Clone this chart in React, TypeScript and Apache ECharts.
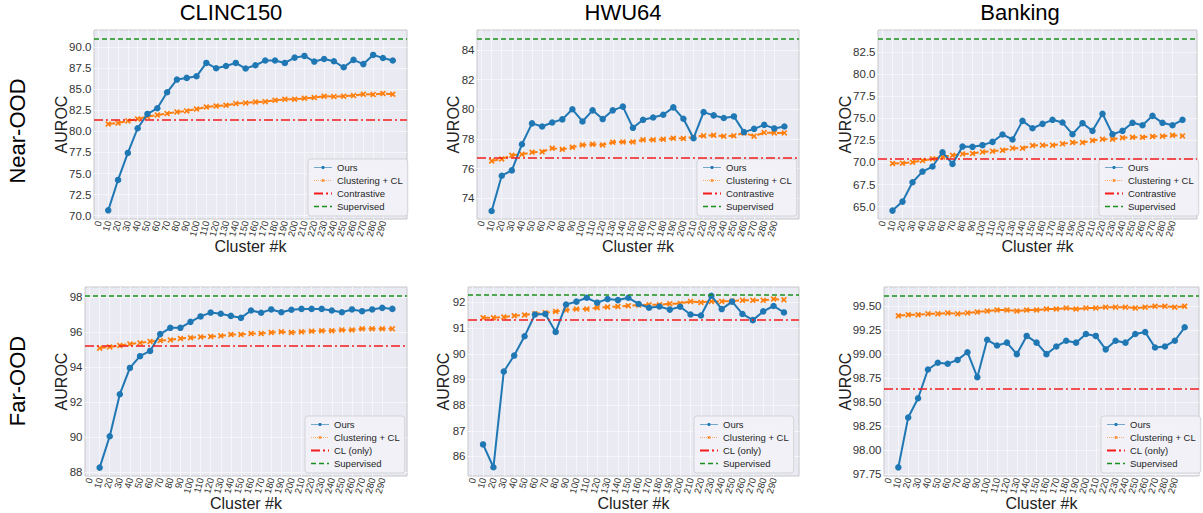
import React, { useEffect, useRef } from "react";
import * as echarts from "echarts";

// ---------------- DATA ----------------
const kValues = [10, 20, 30, 40, 50, 60, 70, 80, 90, 100, 110, 120, 130, 140, 150, 160, 170, 180, 190, 200, 210, 220, 230, 240, 250, 260, 270, 280, 290, 300];
const xTicks = [0, 10, 20, 30, 40, 50, 60, 70, 80, 90, 100, 110, 120, 130, 140, 150, 160, 170, 180, 190, 200, 210, 220, 230, 240, 250, 260, 270, 280, 290];

const columnTitles = ["CLINC150", "HWU64", "Banking"];
const rowTitles = ["Near-OOD", "Far-OOD"];
const seriesNames = ["Ours", "Clustering + CL", "Contrastive", "CL (only)", "Supervised"];
const xAxisTitle = "Cluster #k";
const yAxisTitle = "AUROC";

// Near-OOD
const clincNearOurs = [70.63, 74.24, 77.45, 80.38, 82.08, 82.75, 84.65, 86.16, 86.36, 86.55, 88.14, 87.5, 87.78, 88.14, 87.47, 87.86, 88.42, 88.42, 88.14, 88.77, 88.97, 88.3, 88.61, 88.34, 87.62, 88.5, 88.0, 89.09, 88.73, 88.42];
const clincNearClusterCL = [80.89, 81.0, 81.25, 81.49, 81.76, 81.96, 82.12, 82.32, 82.44, 82.67, 82.91, 83.03, 83.11, 83.31, 83.39, 83.5, 83.54, 83.7, 83.82, 83.82, 83.94, 84.02, 84.18, 84.14, 84.18, 84.26, 84.42, 84.38, 84.5, 84.42];
const clincNearBaseline = 81.33;
const clincNearSupervised = 91.03;

const hwuNearOurs = [73.14, 75.52, 75.88, 77.64, 79.05, 78.84, 79.11, 79.32, 80.0, 79.18, 79.93, 79.34, 79.93, 80.18, 78.75, 79.29, 79.45, 79.63, 80.13, 79.36, 78.05, 79.81, 79.59, 79.41, 79.52, 78.46, 78.68, 78.95, 78.71, 78.84];
const hwuNearClusterCL = [76.51, 76.65, 76.9, 76.96, 77.1, 77.14, 77.37, 77.3, 77.44, 77.6, 77.64, 77.6, 77.78, 77.8, 77.8, 77.94, 77.94, 77.98, 78.05, 78.03, 78.14, 78.21, 78.25, 78.19, 78.21, 78.41, 78.19, 78.43, 78.41, 78.41];
const hwuNearBaseline = 76.74;
const hwuNearSupervised = 84.79;

const bankNearOurs = [64.55, 65.57, 67.76, 68.97, 69.54, 71.16, 69.84, 71.8, 71.77, 71.96, 72.33, 73.17, 72.6, 74.71, 73.88, 74.37, 74.83, 74.52, 73.2, 74.45, 73.58, 75.51, 73.2, 73.58, 74.49, 74.22, 75.28, 74.49, 74.22, 74.83];
const bankNearClusterCL = [69.88, 69.92, 70.03, 70.22, 70.41, 70.63, 70.82, 70.97, 71.01, 71.2, 71.28, 71.39, 71.62, 71.62, 71.92, 71.96, 71.96, 72.11, 72.26, 72.26, 72.48, 72.64, 72.64, 72.79, 72.86, 72.86, 72.94, 72.98, 73.09, 73.01];
const bankNearBaseline = 70.37;
const bankNearSupervised = 84.01;

// Far-OOD
const clincFarOurs = [88.25, 90.04, 92.44, 93.94, 94.61, 94.91, 95.87, 96.23, 96.23, 96.57, 96.88, 97.1, 97.03, 96.91, 96.8, 97.22, 97.09, 97.28, 97.12, 97.26, 97.31, 97.31, 97.31, 97.22, 97.12, 97.28, 97.18, 97.28, 97.37, 97.31];
const clincFarClusterCL = [95.07, 95.14, 95.22, 95.3, 95.37, 95.45, 95.5, 95.54, 95.62, 95.66, 95.71, 95.73, 95.77, 95.85, 95.85, 95.9, 95.9, 95.96, 96.0, 95.96, 96.0, 96.04, 96.06, 96.06, 96.11, 96.11, 96.17, 96.17, 96.17, 96.17];
const clincFarBaseline = 95.2;
const clincFarSupervised = 98.08;

const hwuFarOurs = [86.47, 85.58, 89.31, 89.93, 90.68, 91.53, 91.55, 90.85, 91.92, 92.03, 92.18, 91.99, 92.13, 92.09, 92.18, 91.94, 91.79, 91.84, 91.72, 91.83, 91.53, 91.49, 92.26, 91.74, 92.03, 91.55, 91.31, 91.65, 91.86, 91.61];
const hwuFarClusterCL = [91.4, 91.4, 91.43, 91.48, 91.51, 91.56, 91.6, 91.65, 91.7, 91.74, 91.74, 91.79, 91.82, 91.84, 91.87, 91.9, 91.91, 91.91, 91.95, 91.96, 92.04, 92.0, 92.04, 92.04, 92.05, 92.08, 92.08, 92.08, 92.13, 92.1];
const hwuFarBaseline = 91.34;
const hwuFarSupervised = 92.28;

const bankFarOurs = [97.82, 98.34, 98.54, 98.84, 98.91, 98.9, 98.94, 99.02, 98.76, 99.15, 99.09, 99.12, 99.0, 99.19, 99.12, 99.0, 99.08, 99.14, 99.12, 99.21, 99.19, 99.05, 99.14, 99.12, 99.21, 99.23, 99.07, 99.08, 99.14, 99.28];
const bankFarClusterCL = [99.4, 99.41, 99.41, 99.42, 99.42, 99.43, 99.42, 99.43, 99.44, 99.45, 99.46, 99.46, 99.45, 99.46, 99.46, 99.47, 99.47, 99.48, 99.47, 99.48, 99.48, 99.49, 99.49, 99.49, 99.48, 99.49, 99.5, 99.5, 99.49, 99.5];
const bankFarBaseline = 98.64;
const bankFarSupervised = 99.61;

// y tick labels
const yTicksClincNear = [70, 72.5, 75, 77.5, 80, 82.5, 85, 87.5, 90];
const yTicksHwuNear = [74, 76, 78, 80, 82, 84];
const yTicksBankNear = [65, 67.5, 70, 72.5, 75, 77.5, 80, 82.5];
const yTicksClincFar = [88, 90, 92, 94, 96, 98];
const yTicksHwuFar = [86, 87, 88, 89, 90, 91, 92];
const yTicksBankFar = [97.75, 98, 98.25, 98.5, 98.75, 99, 99.25, 99.5];

// ---------------- STYLE / LAYOUT ----------------
const FONT = "'Liberation Sans', Arial, Helvetica, sans-serif";
const BLUE = "#1f77b4";
const ORANGE = "#ff7f0e";
const RED = "#f41c1c";
const GREEN = "#1a911a";
const X_SYMBOL = "path://M0,2 L2,0 L5,3 L8,0 L10,2 L7,5 L10,8 L8,10 L5,7 L2,10 L0,8 L3,5 Z";
const DASHDOT = [9, 3, 2, 3];
const DASHED = [5, 3];
const X_MIN = -4.5;
const X_MAX = 314.5;

const panels = [
  { grid: { left: 94, top: 30, width: 313, height: 189 }, yMin: 69.6, yMax: 92.05, ticks: yTicksClincNear, dec: 1, ours: clincNearOurs, ccl: clincNearClusterCL, baseName: seriesNames[2], base: clincNearBaseline, sup: clincNearSupervised, yNameX: 61, legend: { left: 308, top: 159 } },
  { grid: { left: 477, top: 30, width: 322, height: 189 }, yMin: 72.6, yMax: 85.35, ticks: yTicksHwuNear, dec: 0, ours: hwuNearOurs, ccl: hwuNearClusterCL, baseName: seriesNames[2], base: hwuNearBaseline, sup: hwuNearSupervised, yNameX: 453, legend: { left: 697, top: 159 } },
  { grid: { left: 878, top: 30, width: 319, height: 189 }, yMin: 63.6, yMax: 85.0, ticks: yTicksBankNear, dec: 1, ours: bankNearOurs, ccl: bankNearClusterCL, baseName: seriesNames[2], base: bankNearBaseline, sup: bankNearSupervised, yNameX: 845, legend: { left: 1099, top: 159 } },
  { grid: { left: 85, top: 287, width: 322, height: 189 }, yMin: 87.77, yMax: 98.56, ticks: yTicksClincFar, dec: 0, ours: clincFarOurs, ccl: clincFarClusterCL, baseName: seriesNames[3], base: clincFarBaseline, sup: clincFarSupervised, yNameX: 61, legend: { left: 305, top: 416 } },
  { grid: { left: 468, top: 287, width: 331, height: 189 }, yMin: 85.24, yMax: 92.6, ticks: yTicksHwuFar, dec: 0, ours: hwuFarOurs, ccl: hwuFarClusterCL, baseName: seriesNames[3], base: hwuFarBaseline, sup: hwuFarSupervised, yNameX: 443, legend: { left: 694, top: 416 } },
  { grid: { left: 884, top: 287, width: 315, height: 189 }, yMin: 97.73, yMax: 99.7, ticks: yTicksBankFar, dec: 2, ours: bankFarOurs, ccl: bankFarClusterCL, baseName: seriesNames[3], base: bankFarBaseline, sup: bankFarSupervised, yNameX: 845, legend: { left: 1101, top: 416 } },
];
const xNameOffset = 27; // distance below plot bottom to centre of "Cluster #k"

const titlePos = [
  { x: 231, y: 12 },
  { x: 623, y: 12 },
  { x: 1020, y: 12 },
];
const rowPos = [
  { x: 17, y: 131 },
  { x: 17, y: 381 },
];

// label positions incl. blank sentinels at the axis ends (so that the real 0 / 290 labels are never auto-hidden)
const xLabelValues = [X_MIN, ...xTicks, X_MAX];

function buildOption() {
  const grid: any[] = [];
  const xAxis: any[] = [];
  const yAxis: any[] = [];
  const series: any[] = [];
  const legend: any[] = [];
  const graphic: any[] = [];

  panels.forEach((p, i) => {
    grid.push({
      ...p.grid,
      show: true,
      backgroundColor: "#eaeaf2",
      borderColor: "#c6c6cc",
      borderWidth: 1,
      containLabel: false,
    });
    xAxis.push({
      type: "value",
      gridIndex: i,
      min: X_MIN,
      max: X_MAX,
      axisLine: { show: false },
      axisTick: { show: false, customValues: xTicks },
      axisLabel: {
        customValues: xLabelValues,
        showMinLabel: false,
        showMaxLabel: false,
        hideOverlap: false,
        rotate: 75,
        fontSize: 9.5,
        lineHeight: 8,
        color: "#333",
        margin: 2,
        fontFamily: FONT,
        formatter: (v: number) => (v < 0 || v > 290 ? "" : String(v)),
      },
      splitLine: { show: true, lineStyle: { color: "#f6f6fa", width: 1 } },
    });
    yAxis.push({
      type: "value",
      gridIndex: i,
      min: p.yMin,
      max: p.yMax,
      axisLine: { show: false },
      axisTick: { show: false, customValues: p.ticks },
      axisLabel: {
        customValues: p.ticks,
        showMinLabel: true,
        showMaxLabel: true,
        fontSize: 11.5,
        color: "#333",
        margin: 2.5,
        fontFamily: FONT,
        formatter: (v: number) => v.toFixed(p.dec),
      },
      splitLine: { show: true, lineStyle: { color: "#f6f6fa", width: 1 } },
    });

    series.push({
      type: "line",
      name: seriesNames[0],
      xAxisIndex: i,
      yAxisIndex: i,
      data: kValues.map((k, j) => [k, p.ours[j]]),
      symbol: "circle",
      symbolSize: 6.5,
      showSymbol: true,
      lineStyle: { color: BLUE, width: 2 },
      itemStyle: { color: BLUE },
      emphasis: { disabled: true },
      z: 4,
    });
    series.push({
      type: "line",
      name: seriesNames[1],
      xAxisIndex: i,
      yAxisIndex: i,
      data: kValues.map((k, j) => [k, p.ccl[j]]),
      symbol: X_SYMBOL,
      symbolSize: 6,
      showSymbol: true,
      lineStyle: { color: ORANGE, width: 2, type: [7, 3] },
      itemStyle: { color: ORANGE },
      emphasis: { disabled: true },
      z: 3,
    });
    series.push({
      type: "line",
      name: p.baseName,
      xAxisIndex: i,
      yAxisIndex: i,
      data: [],
      symbol: "none",
      lineStyle: { color: RED, width: 1.6, type: DASHDOT },
      itemStyle: { color: RED },
      markLine: {
        silent: true,
        symbol: ["none", "none"],
        label: { show: false },
        emphasis: { disabled: true },
        lineStyle: { color: RED, width: 1.6, type: DASHDOT },
        data: [{ yAxis: p.base }],
      },
      z: 2,
    });
    series.push({
      type: "line",
      name: seriesNames[4],
      xAxisIndex: i,
      yAxisIndex: i,
      data: [],
      symbol: "none",
      lineStyle: { color: GREEN, width: 1.6, type: DASHED },
      itemStyle: { color: GREEN },
      markLine: {
        silent: true,
        symbol: ["none", "none"],
        label: { show: false },
        emphasis: { disabled: true },
        lineStyle: { color: GREEN, width: 1.6, type: DASHED },
        data: [{ yAxis: p.sup }],
      },
      z: 2,
    });

    legend.push({
      orient: "vertical",
      left: p.legend.left,
      top: p.legend.top,
      itemWidth: 18,
      itemHeight: 4,
      itemGap: 0,
      padding: [2, 5, 3, 5],
      backgroundColor: "rgba(242,242,247,0.9)",
      borderColor: "#d3d3da",
      borderWidth: 1,
      borderRadius: 3,
      selectedMode: false,
      textStyle: { fontSize: 9.5, lineHeight: 13, color: "#262626", fontFamily: FONT },
      data: [
        { name: seriesNames[0], lineStyle: { width: 1, opacity: 0.6 } },
        { name: seriesNames[1], lineStyle: { width: 1, type: "dotted", opacity: 0.6 } },
        { name: p.baseName, itemStyle: { opacity: 0 }, lineStyle: { width: 2 } },
        { name: seriesNames[4], itemStyle: { opacity: 0 }, lineStyle: { width: 1.6 } },
      ],
    });

    // axis titles
    graphic.push({
      type: "text",
      x: p.grid.left + p.grid.width / 2,
      y: p.grid.top + p.grid.height + xNameOffset,
      style: { text: xAxisTitle, fill: "#222", font: `16px ${FONT}`, align: "center", verticalAlign: "middle" },
    });
    graphic.push({
      type: "text",
      x: p.yNameX,
      y: p.grid.top + p.grid.height / 2,
      rotation: Math.PI / 2,
      style: { text: yAxisTitle, fill: "#222", font: `16px ${FONT}`, align: "center", verticalAlign: "middle" },
    });
  });

  columnTitles.forEach((t, i) => {
    graphic.push({
      type: "text",
      x: titlePos[i].x,
      y: titlePos[i].y,
      style: { text: t, fill: "#000", font: `22px ${FONT}`, align: "center", verticalAlign: "middle" },
    });
  });
  rowTitles.forEach((t, i) => {
    graphic.push({
      type: "text",
      x: rowPos[i].x,
      y: rowPos[i].y,
      rotation: Math.PI / 2,
      style: { text: t, fill: "#000", font: `22px ${FONT}`, align: "center", verticalAlign: "middle" },
    });
  });

  return {
    animation: false,
    backgroundColor: "#ffffff",
    grid,
    xAxis,
    yAxis,
    series,
    legend,
    graphic,
  };
}

export default function App() {
  const ref = useRef<HTMLDivElement>(null);
  useEffect(() => {
    if (!ref.current) return;
    const chart = echarts.init(ref.current, null, { renderer: "svg" });
    chart.setOption(buildOption() as any);
    return () => {
      chart.dispose();
    };
  }, []);
  return (
    <div
      ref={ref}
      style={{ position: "absolute", left: 0, top: 0, width: 1203, height: 513 }}
    />
  );
}
